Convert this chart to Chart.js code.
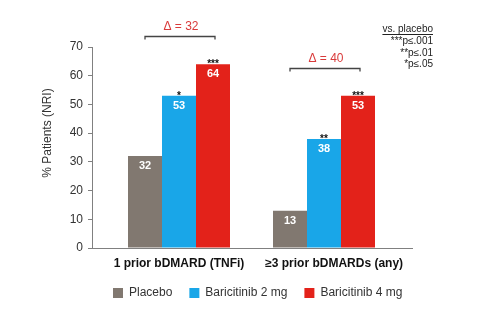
<!DOCTYPE html>
<html><head><meta charset="utf-8">
<script src="https://cdn.jsdelivr.net/npm/chart.js@4/dist/chart.umd.min.js"></script>
<style>html,body{margin:0;padding:0;background:#fff}#wrap{width:493px;height:321px}</style>
</head><body><div id="wrap"><canvas id="c" width="493" height="321"></canvas></div>
<script>
const categories = ['1 prior bDMARD (TNFi)', '≥3 prior bDMARDs (any)'];
const seriesNames = ['Placebo', 'Baricitinib 2 mg', 'Baricitinib 4 mg'];
const placebo = [32, 13];
const bari2 = [53, 38];
const bari4 = [64, 53];
const starsPlacebo = ['', ''];
const stars2 = ['*', '**'];
const stars4 = ['***', '***'];
const deltaLabels = ['Δ = 32', 'Δ = 40'];
const yTickValues = [0, 10, 20, 30, 40, 50, 60, 70];
const noteLines = ['vs. placebo', '***p≤.001', '**p≤.01', '*p≤.05'];
const yTitle = '% Patients (NRI)';

const colors = ['#817870', '#19a6e8', '#e3221a'];
const FONT = '"Liberation Sans", Arial, sans-serif';
Chart.defaults.font.family = FONT;
Chart.defaults.color = '#333';

const seriesValues = [placebo, bari2, bari4];
const seriesStars = [starsPlacebo, stars2, stars4];

const annot = {
  id: 'annot',
  afterLayout(chart) {
    const lg = chart.legend;
    if (!lg) return;
    const h = lg.bottom - lg.top;
    lg.left = 96; lg.right = 493;
    lg.top = 270; lg.bottom = lg.top + h;
  },
  afterDatasetsDraw(chart) {
    const ctx = chart.ctx;
    ctx.save();
    const metas = chart.data.datasets.map((d, i) => chart.getDatasetMeta(i));
    metas.forEach((meta, di) => {
      meta.data.forEach((el, i) => {
        ctx.textAlign = 'center';
        ctx.textBaseline = 'middle';
        ctx.fillStyle = '#ffffff';
        ctx.font = 'bold 11px ' + FONT;
        ctx.fillText(String(seriesValues[di][i]), el.x, el.y + 10);
        const s = seriesStars[di][i];
        if (s) {
          ctx.fillStyle = '#111';
          ctx.font = 'bold 10px ' + FONT;
          ctx.textBaseline = 'alphabetic';
          ctx.fillText(s, el.x, el.y + 3);
        }
      });
    });
    categories.forEach((c, i) => {
      const p = metas[0].data[i], r = metas[2].data[i];
      const top = Math.min(...metas.map(m => m.data[i].y));
      const yb = Math.round(top - 28) + 0.5;
      const x1 = p.x, x2 = r.x + 2;
      ctx.strokeStyle = '#444';
      ctx.lineWidth = 1.3;
      ctx.beginPath();
      ctx.moveTo(x1, yb + 3); ctx.lineTo(x1, yb); ctx.lineTo(x2, yb); ctx.lineTo(x2, yb + 3);
      ctx.stroke();
      ctx.fillStyle = '#d93a3a';
      ctx.font = '12px ' + FONT;
      ctx.textAlign = 'center';
      ctx.textBaseline = 'middle';
      ctx.fillText(deltaLabels[i], (x1 + x2) / 2 + 1, yb - 10);
    });
    ctx.restore();
  },
  afterDraw(chart) {
    const ctx = chart.ctx;
    ctx.save();
    ctx.translate(48, 133);
    ctx.rotate(-Math.PI / 2);
    ctx.fillStyle = '#333';
    ctx.font = '12px ' + FONT;
    ctx.textAlign = 'center';
    ctx.textBaseline = 'middle';
    ctx.fillText(yTitle, 0, 0);
    ctx.restore();
    ctx.save();
    ctx.fillStyle = '#222';
    ctx.font = '10px ' + FONT;
    ctx.textAlign = 'right';
    ctx.textBaseline = 'middle';
    const ys = [29, 41.5, 53, 64.5];
    noteLines.forEach((t, i) => ctx.fillText(t, 433, ys[i]));
    const w = ctx.measureText(noteLines[0]).width;
    ctx.strokeStyle = '#222';
    ctx.lineWidth = 1;
    ctx.beginPath();
    ctx.moveTo(433 - w, 34.5); ctx.lineTo(433, 34.5);
    ctx.stroke();
    ctx.restore();
  }
};

new Chart(document.getElementById('c'), {
  type: 'bar',
  data: {
    datasets: seriesNames.map((name, di) => ({
      label: name,
      data: seriesValues[di].map((v, i) => ({ x: i + 1, y: v })),
      backgroundColor: colors[di],
      borderWidth: 0,
      categoryPercentage: 102 / 145,
      barPercentage: 1
    }))
  },
  options: {
    responsive: false,
    animation: false,
    devicePixelRatio: 1,
    layout: { padding: { left: 62, right: 81, top: 47, bottom: 6 } },
    plugins: {
      legend: {
        position: 'bottom',
        align: 'start',
        labels: { boxWidth: 10, boxHeight: 10, padding: 17, color: '#333', font: { size: 12 } }
      },
      tooltip: { enabled: false }
    },
    scales: {
      x: {
        type: 'linear',
        offset: false,
        min: 0.4,
        max: 0.4 + 320 / 145,
        grid: { display: false, drawTicks: false },
        border: { display: true, color: '#808080', width: 1 },
        afterBuildTicks(scale) { scale.ticks = [{ value: 1 }, { value: 2.07 }]; },
        afterFit(scale) { scale.height = 28; scale.paddingLeft = 0; scale.paddingRight = 0; },
        ticks: {
          padding: 8,
          color: '#111',
          font: { size: 12, weight: 'bold' },
          maxRotation: 0,
          autoSkip: false,
          callback: (v, i) => categories[i]
        }
      },
      y: {
        min: 0,
        max: 70,
        afterBuildTicks(scale) { scale.ticks = yTickValues.map(v => ({ value: v })); },
        afterFit(scale) { scale.width = 30; scale.paddingTop = 0; scale.paddingBottom = 0; },
        grid: { display: true, drawOnChartArea: false, drawTicks: true, tickLength: 4, color: '#808080' },
        border: { display: true, color: '#808080', width: 1 },
        ticks: { padding: 5, color: '#333', font: { size: 12 } }
      }
    }
  },
  plugins: [annot]
});
</script>
</body></html>
